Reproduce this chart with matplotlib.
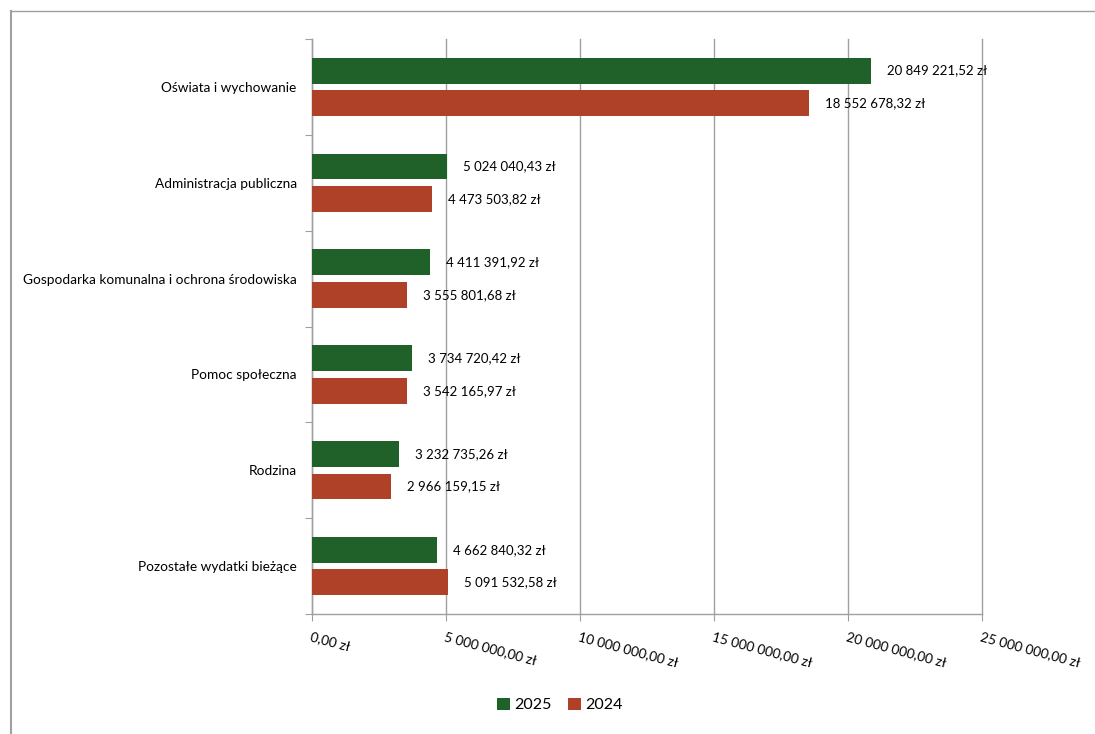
import matplotlib
matplotlib.use("Agg")
import matplotlib.pyplot as plt
from matplotlib.lines import Line2D
import numpy as np

categories = ["Oświata i wychowanie", "Administracja publiczna",
              "Gospodarka komunalna i ochrona środowiska", "Pomoc społeczna",
              "Rodzina", "Pozostałe wydatki bieżące"]
values_2025 = [20849221.52, 5024040.43, 4411391.92, 3734720.42, 3232735.26, 4662840.32]
values_2024 = [18552678.32, 4473503.82, 3555801.68, 3542165.97, 2966159.15, 5091532.58]
xticks = [0, 5e6, 10e6, 15e6, 20e6, 25e6]
xtick_labels = ["0,00 zł", "5 000 000,00 zł", "10 000 000,00 zł", "15 000 000,00 zł",
                "20 000 000,00 zł", "25 000 000,00 zł"]

GREEN = "#1f6129"
RED = "#ae4127"
GRID = "#a0a0a0"

plt.rcParams['font.family'] = ['Lato', 'DejaVu Sans']

def fmt(v):
    s = f"{v:,.2f}"
    s = s.replace(",", " ").replace(".", ",")
    return s + " zł"

fig = plt.figure(figsize=(10.95, 7.34), dpi=100)
ax = fig.add_axes([312/1095, 1 - 614/734, (982-312)/1095, (614-39)/734])

n = len(categories)
y = np.arange(n)
h = 0.27
off = 0.17
ax.barh(y - off, values_2025, height=h, color=GREEN, label="2025", zorder=3)
ax.barh(y + off, values_2024, height=h, color=RED, label="2024", zorder=3)

for yi, v in zip(y, values_2025):
    ax.annotate(fmt(v), (v, yi - off), xytext=(11.5, 0), textcoords="offset points",
                va="center", ha="left", fontsize=9.5, color="#000000")
for yi, v in zip(y, values_2024):
    ax.annotate(fmt(v), (v, yi + off), xytext=(11.5, 0), textcoords="offset points",
                va="center", ha="left", fontsize=9.5, color="#000000")

ax.set_ylim(n - 0.5, -0.5)
ax.set_xlim(0, 25e6)
ax.set_yticks(np.arange(-0.5, n, 1.0))
ax.set_yticklabels([])
ax.set_yticks(y, minor=True)
ax.set_yticklabels(categories, minor=True, fontsize=9.8)
ax.tick_params(axis='y', which='minor', length=0, pad=11)
ax.tick_params(axis='y', which='major', length=5, color=GRID, direction='out')

ax.set_xticks(xticks)
ax.set_xticklabels(xtick_labels, rotation=-15, ha='left', va='top',
                   rotation_mode='anchor', fontsize=9.8)
ax.tick_params(axis='x', length=5, color=GRID, pad=7)

ax.grid(axis='x', color=GRID, linewidth=1, zorder=0)
for gl in ax.get_xgridlines():
    gl.set_clip_on(False)
for s in ["top", "right"]:
    ax.spines[s].set_visible(False)
for s in ["left", "bottom"]:
    ax.spines[s].set_color(GRID)
    ax.spines[s].set_linewidth(1)

leg = fig.legend(loc="center", bbox_to_anchor=(560/1095, 1 - 705/734), ncol=2,
                 frameon=False, fontsize=11.5, handlelength=0.8, handleheight=0.8,
                 handletextpad=0.3, columnspacing=1.0)

fx = 10.5/1095
fy = 1 - 10.5/734
fig.add_artist(Line2D([fx, 1], [fy, fy], transform=fig.transFigure, color=GRID, linewidth=1))
fig.add_artist(Line2D([fx, fx], [0, fy], transform=fig.transFigure, color=GRID, linewidth=1.5))

fig.savefig("out.png", dpi=100)
